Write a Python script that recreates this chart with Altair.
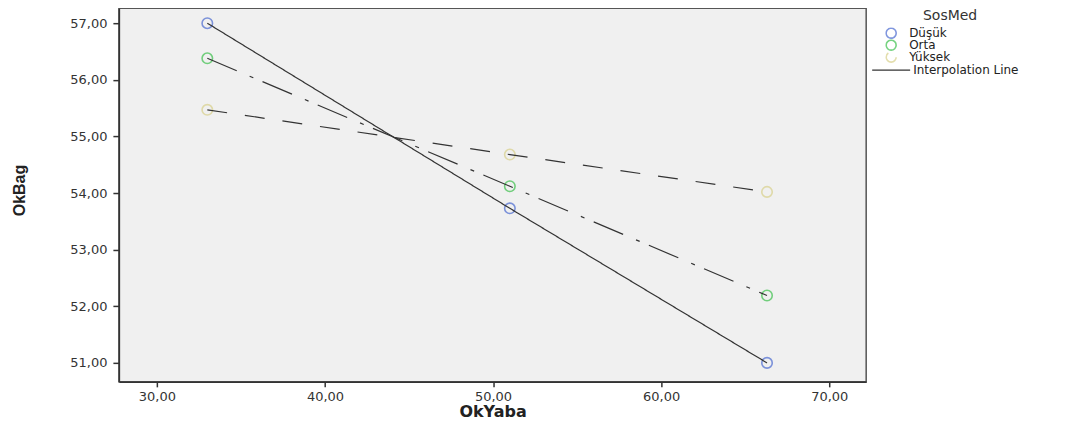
import altair as alt
import pandas as pd

groups = ["Düşük", "Orta", "Yüksek"]
okyaba = [33.0, 51.0, 66.3]
okbag_dusuk = [57.0, 53.73, 51.0]
okbag_orta = [56.38, 54.12, 52.19]
okbag_yuksek = [55.47, 54.68, 54.02]
x_ticks = [30, 40, 50, 60, 70]
y_ticks = [51, 52, 53, 54, 55, 56, 57]
group_colors = ["#4A6AD0", "#3CC04C", "#D8D08A"]
line_label = "Interpolation Line"

rows = []
for g, vals in zip(groups, [okbag_dusuk, okbag_orta, okbag_yuksek]):
    for i, (xv, yv) in enumerate(zip(okyaba, vals)):
        rows.append({"SosMed": g, "OkYaba": xv, "OkBag": yv, "order": i, "lineLabel": line_label})
df = pd.DataFrame(rows)

lab_expr = "replace(format(datum.value, '.2f'), '.', ',')"

x_enc = alt.X(
    "OkYaba:Q",
    scale=alt.Scale(domain=[27.74, 72.2], nice=False, zero=False),
    axis=alt.Axis(
        values=x_ticks, labelExpr=lab_expr, grid=False, tickSize=5, labelPadding=4,
        title="OkYaba", titleFont="DejaVu Sans", titleFontWeight="bold", titleFontSize=16,
        titleColor="#222", titleX=374, titleY=30, titleBaseline="middle", titleAlign="center",
        domainColor="#333", domainWidth=1.5, tickColor="#333", tickWidth=1.5,
        labelFont="DejaVu Sans", labelFontSize=13, labelColor="#333",
    ),
)
y_enc = alt.Y(
    "OkBag:Q",
    scale=alt.Scale(domain=[50.665, 57.265], nice=False, zero=False),
    axis=alt.Axis(
        values=y_ticks, labelExpr=lab_expr, grid=False, tickSize=6, labelPadding=6,
        title="OkBag", titleFont="Liberation Sans", titleFontWeight="bold", titleFontSize=16,
        titleColor="#222", titleX=-99, titleY=182, titleBaseline="middle", titleAlign="center",
        domainColor="#333", domainWidth=1.5, tickColor="#333", tickWidth=1.5,
        labelFont="DejaVu Sans", labelFontSize=13, labelColor="#333",
    ),
)

points = alt.Chart(df).mark_point(filled=False, shape="circle", size=110, strokeWidth=1.6).encode(
    x=x_enc,
    y=y_enc,
    color=alt.Color(
        "SosMed:N",
        scale=alt.Scale(domain=groups, range=group_colors),
        legend=alt.Legend(
            title="SosMed", orient="none", legendX=767, legendY=1,
            titleFont="DejaVu Sans", titleFontSize=14, titleFontWeight="normal", titleColor="#333",
            titleAnchor="end", titleAlign="center", titlePadding=4,
            labelFont="DejaVu Sans", labelFontSize=12, labelColor="#222",
            symbolType="circle", symbolSize=100, symbolStrokeWidth=1.6,
            rowPadding=0, clipHeight=12, labelOffset=12,
        ),
    ),
)

lines = alt.Chart(df).mark_line(strokeWidth=1.2).encode(
    x=x_enc,
    y=y_enc,
    strokeDash=alt.StrokeDash(
        "SosMed:N",
        scale=alt.Scale(domain=groups, range=[[1, 0], [32, 14, 4, 10], [20, 18]]),
        legend=None,
    ),
    stroke=alt.Stroke(
        "lineLabel:N",
        scale=alt.Scale(domain=[line_label], range=["#333333"]),
        title=None,
        legend=alt.Legend(
            orient="none", legendX=753, legendY=42,
            symbolType="stroke", symbolSize=1444, symbolStrokeWidth=1.2,
            labelFont="DejaVu Sans", labelFontSize=12, labelColor="#222", labelOffset=2,
        ),
    ),
    order="order:Q",
)

chart = (
    alt.layer(points, lines)
    .properties(
        width=748, height=374,
        autosize=alt.AutoSizeParams(type="none"),
        padding={"left": 111, "top": 0, "right": 191, "bottom": 40},
        background="white",
    )
    .configure_view(fill="#f0f0f0", stroke="#555555", strokeWidth=1.5)
)

chart.save("out.html", embed_options={"renderer": "svg", "actions": False})
